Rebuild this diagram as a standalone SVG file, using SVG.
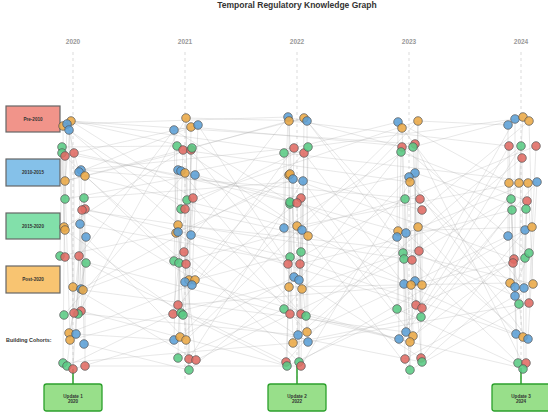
<svg xmlns="http://www.w3.org/2000/svg" width="548" height="417" viewBox="0 0 548 417">
<style>
text{font-family:"Liberation Sans",Arial,sans-serif}
.title{font-size:8.5px;font-weight:bold;fill:#333}
.yr{font-size:6.5px;font-weight:bold;fill:#999}
.yl{stroke:#ccc;stroke-width:0.7;stroke-dasharray:3 3}
.leg{stroke:#666;stroke-width:1.2}
.lt{font-size:4.6px;font-weight:bold;fill:#333}
.ub{fill:#98df8a;stroke:#2ca02c;stroke-width:1.3}
.ut{font-size:4.6px;font-weight:bold;fill:#333}
.ed{fill:none;stroke:#aaa;stroke-width:0.6;stroke-opacity:0.45}
circle{stroke:#555;stroke-width:0.7;fill-opacity:0.88}
.r{fill:#e06b63}.b{fill:#5b9fd6}.g{fill:#5acb84}.o{fill:#eba946}
</style>
<rect width="548" height="417" fill="#fff"/>
<text class="title" x="297" y="8" text-anchor="middle">Temporal Regulatory Knowledge Graph</text>
<g id="axis">
<text class="yr" x="73" y="44" text-anchor="middle">2020</text>
<text class="yr" x="185" y="44" text-anchor="middle">2021</text>
<text class="yr" x="297" y="44" text-anchor="middle">2022</text>
<text class="yr" x="409" y="44" text-anchor="middle">2023</text>
<text class="yr" x="521" y="44" text-anchor="middle">2024</text>
<line class="yl" x1="73" y1="52" x2="73" y2="380"/>
<line class="yl" x1="185" y1="52" x2="185" y2="380"/>
<line class="yl" x1="297" y1="52" x2="297" y2="380"/>
<line class="yl" x1="409" y1="52" x2="409" y2="380"/>
<line class="yl" x1="521" y1="52" x2="521" y2="380"/>
</g>
<g id="connectors">
<path class="ed" d="M71 121L65 181M67 124L65 199M69 130L73 287M63 126L64 228M74 153L74 313M81 170L84 344M85 176L83 290M84 198L78 314M85 209L85 366M80 224L76 334M62 153L65 257M65 181L70 340M62 147L60 256M65 156L63 363M79 172L81 289M82 210L73 369M86 237L81 311M79 256L67 366M86 263L69 333M71 121L73 369M67 124L79 172"/>
<path class="ed" d="M186 118L187 200M174 130L176 233M191 127L189 280M198 125L192 285M177 146L174 261M183 150L178 305M191 150L189 359M192 148L183 315M178 170L174 340M185 173L186 340M195 175L191 235M193 198L186 264M181 209L178 358M185 209L173 314M178 225L180 337M178 232L185 282M184 252L196 360M179 263L189 370M186 118L189 370"/>
<path class="ed" d="M288 117L284 228M289 121L289 287M304 118L302 289M307 121L308 342M284 153L284 309M294 148L290 314M304 153L301 366M308 147L306 316M289 175L293 343M293 179L294 277M303 181L298 335M290 202L287 366M297 203L301 314M301 198L300 264M297 226L307 332M302 230L299 280M290 257L286 362M301 252L299 362M289 121L299 362"/>
<path class="ed" d="M398 122L397 237M402 128L410 342M418 121L418 227M402 147L405 359M401 152L397 309M415 144L416 305M413 147L421 317M409 177L404 284M415 173L415 281M410 182L413 336M405 199L404 259M420 199L421 358M422 210L422 308M398 231L399 339M406 233L406 332M403 253L410 370M412 260L422 362M419 251L422 285M418 121L410 370"/>
<path class="ed" d="M508 125L508 236M515 119L515 296M523 117L519 183M529 121L532 227M509 146L513 263M521 146L519 304M536 146L529 303M522 158L524 366M509 183L510 283M528 183L533 284M537 182L528 339M511 199L518 363M527 201L525 258M512 210L516 334M526 209L526 369M525 230L524 288M514 259L523 337M529 253L515 287"/>
<path class="ed" d="M71 121L192 148M71 121L304 153M71 121L193 198M67 124L288 117M69 130L191 235M63 126L185 209M74 153L198 125M74 153L297 203M79 172L191 127M81 170L294 148M85 176L186 264M85 176L302 230M65 181L191 150M65 199L195 175M84 198L303 181M82 210L195 280M85 209L290 257M64 228L183 150M65 230L181 313M80 224L300 264M86 237L186 340M60 256L178 232M65 257L290 314M79 256L174 130M86 263L286 362M73 287L196 360M81 289L289 175M83 290L184 252M64 315L185 173M74 313L298 335M78 314L186 118M81 311L287 366M69 333L192 285M70 340L299 280M76 334L174 340M84 344L189 370M63 363L293 343M67 366L173 314M73 369L180 337M85 366L301 366M62 147L177 146M62 153L301 198M65 156L174 261M71 121L415 144M81 170L420 199M82 210L412 260M83 290L406 332M65 181L304 118"/>
<path class="ed" d="M186 118L307 121M174 130L290 202M191 127L413 147M198 125L288 264M177 146L297 226M183 150L410 182M191 150L302 289M192 148L289 121M178 170L398 231M181 171L301 314M185 173L284 153M195 175L411 285M187 200L307 332M193 198L418 121M181 209L308 147M185 209L308 236M178 225L419 251M176 233L306 316M178 232L293 179M191 235L416 305M184 252L299 362M174 261L288 117M179 263L405 199M186 264L308 342M185 282L304 153M189 280L399 339M195 280L301 252M192 285L297 203M178 305L422 285M173 314L294 148M181 313L287 366M183 315L422 362M174 340L294 277M180 337L284 228M186 340L402 128M178 358L284 309M189 359L303 181M196 360L404 259M189 370L289 287"/>
<path class="ed" d="M288 117L402 147M289 121L509 146M304 118L406 233M307 121L412 260M284 153L537 182M294 148L398 122M304 153L422 308M308 147L515 119M289 175L422 210M293 179L514 259M303 181L397 309M290 202L415 173M297 203L515 296M301 198L413 336M284 228L415 144M297 226L519 183M302 230L410 370M308 236L418 121M290 257L528 339M301 252L404 284M288 264L405 199M300 264L512 210M294 277L421 358M299 280L401 152M289 287L510 283M302 289L403 253M284 309L409 177M290 314L526 369M301 314L410 342M306 316L398 231M298 335L521 146M307 332L415 281M293 343L421 317M308 342L529 303M286 362L397 237M287 366L416 305M299 362L525 230M301 366L410 182"/>
<path class="ed" d="M398 122L509 183M402 128L524 288M418 121L508 125M402 147L529 253M401 152L527 201M415 144L524 366M413 147L523 117M409 177L519 304M415 173L526 209M410 182L528 339M405 199L536 146M420 199L515 287M422 210L529 121M398 231L532 227M406 233L523 337M397 237L528 183M418 227L516 334M403 253L533 284M404 259L522 158M412 260L518 363M419 251L511 199M404 284L516 334M411 285L525 258M415 281L508 236M422 285L515 119M397 309L526 369M416 305L513 263M422 308L521 146M421 317L537 182M406 332L519 183M413 336L514 259M410 342L512 210M399 339L509 146M405 359L515 296M421 358L525 230M422 362L510 283M410 370L529 303"/>
<path d="M73 384V369M297 384V366M521 384V368" fill="none" stroke="#2ca02c" stroke-width="1.5"/>
</g>
<g id="legend-pre2010"><rect class="leg" x="6" y="106" width="54" height="26" fill="#f1948a"/><text class="lt" x="33" y="120.5" text-anchor="middle">Pre-2010</text></g>
<g id="legend-2010-2015"><rect class="leg" x="6" y="159" width="54" height="27" fill="#85c1e9"/><text class="lt" x="33" y="174" text-anchor="middle">2010-2015</text></g>
<g id="legend-2015-2020"><rect class="leg" x="6" y="213" width="54" height="26" fill="#82e0aa"/><text class="lt" x="33" y="227.5" text-anchor="middle">2015-2020</text></g>
<g id="legend-post2020"><rect class="leg" x="6" y="266" width="54" height="27" fill="#f8c471"/><text class="lt" x="33" y="281" text-anchor="middle">Post-2020</text></g>
<text x="6" y="342" font-size="5.4" font-weight="bold" fill="#333">Building Cohorts:</text>
<g id="c2020">
<g id="a1"><circle class="o" cx="63" cy="126" r="4.3"/></g>
<g id="a2"><circle class="o" cx="71" cy="121" r="4.3"/></g>
<g id="a3"><circle class="b" cx="67" cy="124" r="4.3"/></g>
<g id="a4"><circle class="b" cx="69" cy="130" r="4.3"/></g>
<g id="a5"><circle class="g" cx="62" cy="147" r="4.3"/></g>
<g id="a6"><circle class="g" cx="62" cy="153" r="4.3"/></g>
<g id="a7"><circle class="r" cx="65" cy="156" r="4.3"/></g>
<g id="a8"><circle class="r" cx="74" cy="153" r="4.3"/></g>
<g id="a9"><circle class="b" cx="81" cy="170" r="4.3"/></g>
<g id="a10"><circle class="b" cx="79" cy="172" r="4.3"/></g>
<g id="a11"><circle class="o" cx="85" cy="176" r="4.3"/></g>
<g id="a12"><circle class="o" cx="65" cy="181" r="4.3"/></g>
<g id="a13"><circle class="g" cx="65" cy="199" r="4.3"/></g>
<g id="a14"><circle class="g" cx="84" cy="198" r="4.3"/></g>
<g id="a15"><circle class="r" cx="85" cy="209" r="4.3"/></g>
<g id="a16"><circle class="r" cx="82" cy="210" r="4.3"/></g>
<g id="a17"><circle class="o" cx="64" cy="227" r="4.3"/></g>
<g id="a18"><circle class="o" cx="65" cy="230" r="4.3"/></g>
<g id="a19"><circle class="b" cx="80" cy="224" r="4.3"/></g>
<g id="a20"><circle class="b" cx="86" cy="237" r="4.3"/></g>
<g id="a21"><circle class="g" cx="60" cy="256" r="4.3"/></g>
<g id="a22"><circle class="r" cx="65" cy="257" r="4.3"/></g>
<g id="a23"><circle class="r" cx="79" cy="256" r="4.3"/></g>
<g id="a24"><circle class="g" cx="86" cy="263" r="4.3"/></g>
<g id="a25"><circle class="o" cx="73" cy="287" r="4.3"/></g>
<g id="a26"><circle class="b" cx="81" cy="289" r="4.3"/></g>
<g id="a27"><circle class="o" cx="83" cy="290" r="4.3"/></g>
<g id="a28"><circle class="g" cx="64" cy="315" r="4.3"/></g>
<g id="a29"><circle class="r" cx="81" cy="311" r="4.3"/></g>
<g id="a30"><circle class="g" cx="78" cy="314" r="4.3"/></g>
<g id="a31"><circle class="r" cx="74" cy="313" r="4.3"/></g>
<g id="a32"><circle class="o" cx="69" cy="333" r="4.3"/></g>
<g id="a33"><circle class="o" cx="70" cy="340" r="4.3"/></g>
<g id="a34"><circle class="b" cx="76" cy="334" r="4.3"/></g>
<g id="a35"><circle class="b" cx="84" cy="344" r="4.3"/></g>
<g id="a36"><circle class="g" cx="63" cy="363" r="4.3"/></g>
<g id="a37"><circle class="g" cx="67" cy="366" r="4.3"/></g>
<g id="a38"><circle class="r" cx="73" cy="369" r="4.3"/></g>
<g id="a39"><circle class="r" cx="85" cy="366" r="4.3"/></g>
</g>
<g id="c2021">
<g id="b1"><circle class="o" cx="186" cy="118" r="4.3"/></g>
<g id="b2"><circle class="b" cx="174" cy="130" r="4.3"/></g>
<g id="b3"><circle class="o" cx="191" cy="127" r="4.3"/></g>
<g id="b4"><circle class="b" cx="198" cy="125" r="4.3"/></g>
<g id="b5"><circle class="g" cx="177" cy="146" r="4.3"/></g>
<g id="b6"><circle class="r" cx="183" cy="150" r="4.3"/></g>
<g id="b7"><circle class="r" cx="191" cy="150" r="4.3"/></g>
<g id="b8"><circle class="g" cx="192" cy="148" r="4.3"/></g>
<g id="b9"><circle class="b" cx="178" cy="170" r="4.3"/></g>
<g id="b10"><circle class="b" cx="181" cy="171" r="4.3"/></g>
<g id="b11"><circle class="o" cx="185" cy="173" r="4.3"/></g>
<g id="b12"><circle class="b" cx="195" cy="175" r="4.3"/></g>
<g id="b13"><circle class="g" cx="187" cy="200" r="4.3"/></g>
<g id="b14"><circle class="r" cx="193" cy="198" r="4.3"/></g>
<g id="b15"><circle class="g" cx="181" cy="209" r="4.3"/></g>
<g id="b16"><circle class="r" cx="185" cy="209" r="4.3"/></g>
<g id="b17"><circle class="o" cx="178" cy="225" r="4.3"/></g>
<g id="b18"><circle class="o" cx="176" cy="233" r="4.3"/></g>
<g id="b19"><circle class="b" cx="178" cy="232" r="4.3"/></g>
<g id="b20"><circle class="b" cx="191" cy="235" r="4.3"/></g>
<g id="b21"><circle class="r" cx="184" cy="252" r="4.3"/></g>
<g id="b22"><circle class="g" cx="174" cy="261" r="4.3"/></g>
<g id="b23"><circle class="g" cx="179" cy="263" r="4.3"/></g>
<g id="b24"><circle class="r" cx="186" cy="264" r="4.3"/></g>
<g id="b25"><circle class="o" cx="189" cy="280" r="4.3"/></g>
<g id="b26"><circle class="o" cx="195" cy="280" r="4.3"/></g>
<g id="b27"><circle class="b" cx="185" cy="282" r="4.3"/></g>
<g id="b28"><circle class="b" cx="192" cy="285" r="4.3"/></g>
<g id="b29"><circle class="r" cx="178" cy="305" r="4.3"/></g>
<g id="b30"><circle class="r" cx="173" cy="314" r="4.3"/></g>
<g id="b31"><circle class="g" cx="181" cy="313" r="4.3"/></g>
<g id="b32"><circle class="g" cx="183" cy="315" r="4.3"/></g>
<g id="b33"><circle class="b" cx="174" cy="340" r="4.3"/></g>
<g id="b34"><circle class="o" cx="180" cy="337" r="4.3"/></g>
<g id="b35"><circle class="o" cx="186" cy="340" r="4.3"/></g>
<g id="b36"><circle class="g" cx="178" cy="358" r="4.3"/></g>
<g id="b37"><circle class="r" cx="189" cy="359" r="4.3"/></g>
<g id="b38"><circle class="r" cx="196" cy="360" r="4.3"/></g>
<g id="b39"><circle class="g" cx="189" cy="370" r="4.3"/></g>
</g>
<g id="c2022">
<g id="c1"><circle class="b" cx="288" cy="117" r="4.3"/></g>
<g id="c2"><circle class="o" cx="289" cy="121" r="4.3"/></g>
<g id="c3"><circle class="o" cx="304" cy="118" r="4.3"/></g>
<g id="c4"><circle class="b" cx="307" cy="121" r="4.3"/></g>
<g id="c5"><circle class="g" cx="284" cy="153" r="4.3"/></g>
<g id="c6"><circle class="r" cx="294" cy="148" r="4.3"/></g>
<g id="c7"><circle class="r" cx="304" cy="153" r="4.3"/></g>
<g id="c8"><circle class="g" cx="308" cy="147" r="4.3"/></g>
<g id="c9"><circle class="o" cx="289" cy="175" r="4.3"/></g>
<g id="c9b"><circle class="o" cx="290" cy="174" r="4.3"/></g>
<g id="c10"><circle class="b" cx="293" cy="179" r="4.3"/></g>
<g id="c11"><circle class="b" cx="303" cy="181" r="4.3"/></g>
<g id="c12"><circle class="g" cx="290" cy="204" r="4.3"/></g>
<g id="c12b"><circle class="g" cx="290" cy="202" r="4.3"/></g>
<g id="c14"><circle class="r" cx="301" cy="198" r="4.3"/></g>
<g id="c13"><circle class="r" cx="297" cy="203" r="4.3"/></g>
<g id="c15"><circle class="b" cx="284" cy="228" r="4.3"/></g>
<g id="c16"><circle class="o" cx="297" cy="226" r="4.3"/></g>
<g id="c17"><circle class="b" cx="302" cy="230" r="4.3"/></g>
<g id="c18"><circle class="o" cx="308" cy="236" r="4.3"/></g>
<g id="c19"><circle class="g" cx="290" cy="257" r="4.3"/></g>
<g id="c20"><circle class="g" cx="301" cy="252" r="4.3"/></g>
<g id="c21"><circle class="r" cx="288" cy="264" r="4.3"/></g>
<g id="c22"><circle class="r" cx="300" cy="264" r="4.3"/></g>
<g id="c23"><circle class="b" cx="294" cy="277" r="4.3"/></g>
<g id="c24"><circle class="b" cx="299" cy="280" r="4.3"/></g>
<g id="c25"><circle class="o" cx="289" cy="287" r="4.3"/></g>
<g id="c26"><circle class="o" cx="302" cy="289" r="4.3"/></g>
<g id="c27"><circle class="g" cx="284" cy="309" r="4.3"/></g>
<g id="c28"><circle class="r" cx="290" cy="314" r="4.3"/></g>
<g id="c29"><circle class="r" cx="301" cy="314" r="4.3"/></g>
<g id="c30"><circle class="g" cx="306" cy="316" r="4.3"/></g>
<g id="c31"><circle class="b" cx="298" cy="335" r="4.3"/></g>
<g id="c32"><circle class="o" cx="307" cy="332" r="4.3"/></g>
<g id="c33"><circle class="o" cx="293" cy="343" r="4.3"/></g>
<g id="c34"><circle class="b" cx="308" cy="342" r="4.3"/></g>
<g id="c35"><circle class="r" cx="286" cy="362" r="4.3"/></g>
<g id="c36"><circle class="g" cx="287" cy="366" r="4.3"/></g>
<g id="c37"><circle class="g" cx="299" cy="362" r="4.3"/></g>
<g id="c38"><circle class="r" cx="301" cy="366" r="4.3"/></g>
</g>
<g id="c2023">
<g id="d1"><circle class="b" cx="398" cy="122" r="4.3"/></g>
<g id="d2"><circle class="o" cx="402" cy="128" r="4.3"/></g>
<g id="d3"><circle class="o" cx="418" cy="121" r="4.3"/></g>
<g id="d4"><circle class="r" cx="402" cy="147" r="4.3"/></g>
<g id="d5"><circle class="g" cx="401" cy="152" r="4.3"/></g>
<g id="d6"><circle class="r" cx="415" cy="144" r="4.3"/></g>
<g id="d7"><circle class="g" cx="413" cy="147" r="4.3"/></g>
<g id="d8"><circle class="b" cx="415" cy="173" r="4.3"/></g>
<g id="d9"><circle class="b" cx="409" cy="177" r="4.3"/></g>
<g id="d10"><circle class="o" cx="410" cy="182" r="4.3"/></g>
<g id="d11"><circle class="g" cx="405" cy="199" r="4.3"/></g>
<g id="d12"><circle class="r" cx="420" cy="199" r="4.3"/></g>
<g id="d13"><circle class="r" cx="422" cy="210" r="4.3"/></g>
<g id="d14"><circle class="o" cx="398" cy="231" r="4.3"/></g>
<g id="d15"><circle class="b" cx="406" cy="233" r="4.3"/></g>
<g id="d16"><circle class="b" cx="397" cy="237" r="4.3"/></g>
<g id="d17"><circle class="o" cx="418" cy="227" r="4.3"/></g>
<g id="d18"><circle class="g" cx="403" cy="253" r="4.3"/></g>
<g id="d19"><circle class="g" cx="404" cy="259" r="4.3"/></g>
<g id="d20"><circle class="r" cx="412" cy="260" r="4.3"/></g>
<g id="d21"><circle class="r" cx="419" cy="251" r="4.3"/></g>
<g id="d22"><circle class="b" cx="404" cy="284" r="4.3"/></g>
<g id="d24"><circle class="b" cx="415" cy="281" r="4.3"/></g>
<g id="d23"><circle class="o" cx="411" cy="285" r="4.3"/></g>
<g id="d25"><circle class="o" cx="422" cy="285" r="4.3"/></g>
<g id="d26"><circle class="g" cx="397" cy="309" r="4.3"/></g>
<g id="d27"><circle class="r" cx="416" cy="305" r="4.3"/></g>
<g id="d28"><circle class="r" cx="422" cy="308" r="4.3"/></g>
<g id="d29"><circle class="g" cx="421" cy="317" r="4.3"/></g>
<g id="d30"><circle class="b" cx="406" cy="332" r="4.3"/></g>
<g id="d31"><circle class="o" cx="413" cy="336" r="4.3"/></g>
<g id="d32"><circle class="o" cx="410" cy="342" r="4.3"/></g>
<g id="d33"><circle class="b" cx="399" cy="339" r="4.3"/></g>
<g id="d34"><circle class="r" cx="405" cy="359" r="4.3"/></g>
<g id="d35"><circle class="r" cx="421" cy="358" r="4.3"/></g>
<g id="d36"><circle class="g" cx="422" cy="362" r="4.3"/></g>
<g id="d37"><circle class="g" cx="410" cy="370" r="4.3"/></g>
</g>
<g id="c2024">
<g id="e1"><circle class="b" cx="508" cy="125" r="4.3"/></g>
<g id="e2"><circle class="b" cx="515" cy="119" r="4.3"/></g>
<g id="e3"><circle class="o" cx="523" cy="117" r="4.3"/></g>
<g id="e4"><circle class="o" cx="529" cy="121" r="4.3"/></g>
<g id="e5"><circle class="r" cx="509" cy="146" r="4.3"/></g>
<g id="e6"><circle class="g" cx="521" cy="146" r="4.3"/></g>
<g id="e7"><circle class="r" cx="536" cy="146" r="4.3"/></g>
<g id="e8"><circle class="r" cx="522" cy="158" r="4.3"/></g>
<g id="e9"><circle class="o" cx="509" cy="183" r="4.3"/></g>
<g id="e10"><circle class="o" cx="519" cy="183" r="4.3"/></g>
<g id="e11"><circle class="o" cx="528" cy="183" r="4.3"/></g>
<g id="e12"><circle class="b" cx="537" cy="182" r="4.3"/></g>
<g id="e13"><circle class="g" cx="511" cy="199" r="4.3"/></g>
<g id="e14"><circle class="r" cx="527" cy="201" r="4.3"/></g>
<g id="e15"><circle class="g" cx="512" cy="210" r="4.3"/></g>
<g id="e16"><circle class="g" cx="526" cy="209" r="4.3"/></g>
<g id="e17"><circle class="b" cx="508" cy="236" r="4.3"/></g>
<g id="e18"><circle class="b" cx="525" cy="230" r="4.3"/></g>
<g id="e19"><circle class="o" cx="532" cy="227" r="4.3"/></g>
<g id="e20"><circle class="r" cx="514" cy="259" r="4.3"/></g>
<g id="e21"><circle class="g" cx="525" cy="258" r="4.3"/></g>
<g id="e22"><circle class="g" cx="529" cy="253" r="4.3"/></g>
<g id="e23"><circle class="r" cx="513" cy="263" r="4.3"/></g>
<g id="e24"><circle class="o" cx="510" cy="283" r="4.3"/></g>
<g id="e25"><circle class="b" cx="524" cy="288" r="4.3"/></g>
<g id="e26"><circle class="o" cx="533" cy="284" r="4.3"/></g>
<g id="e27"><circle class="b" cx="515" cy="287" r="4.3"/></g>
<g id="e28"><circle class="b" cx="515" cy="296" r="4.3"/></g>
<g id="e29"><circle class="g" cx="519" cy="304" r="4.3"/></g>
<g id="e30"><circle class="r" cx="529" cy="303" r="4.3"/></g>
<g id="e31"><circle class="b" cx="516" cy="334" r="4.3"/></g>
<g id="e32"><circle class="o" cx="523" cy="337" r="4.3"/></g>
<g id="e33"><circle class="b" cx="528" cy="339" r="4.3"/></g>
<g id="e34"><circle class="g" cx="518" cy="363" r="4.3"/></g>
<g id="e35"><circle class="r" cx="526" cy="363" r="4.3"/></g>
<g id="e36"><circle class="g" cx="523" cy="369" r="4.3"/></g>
</g>
<g id="update1"><rect class="ub" x="44" y="384" width="58" height="27" rx="2.5"/><text class="ut" x="73" y="397.5" text-anchor="middle">Update 1</text><text class="ut" x="73" y="403" text-anchor="middle">2020</text></g>
<g id="update2"><rect class="ub" x="268" y="384" width="58" height="27" rx="2.5"/><text class="ut" x="297" y="397.5" text-anchor="middle">Update 2</text><text class="ut" x="297" y="403" text-anchor="middle">2022</text></g>
<g id="update3"><rect class="ub" x="492" y="384" width="58" height="27" rx="2.5"/><text class="ut" x="521" y="397.5" text-anchor="middle">Update 3</text><text class="ut" x="521" y="403" text-anchor="middle">2024</text></g>
</svg>
